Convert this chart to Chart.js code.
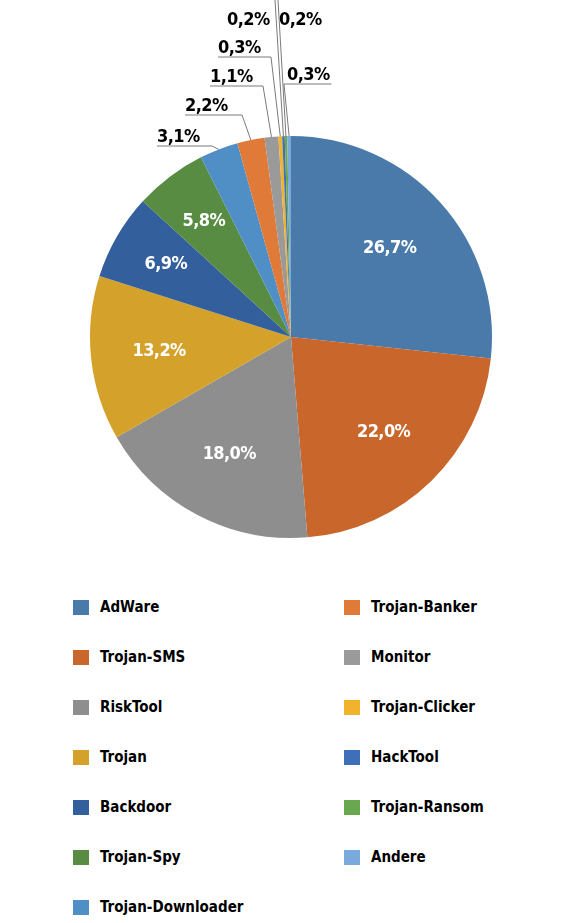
<!DOCTYPE html>
<html lang="de">
<head>
  <meta charset="UTF-8">
  <title>Mobile Bedrohungen nach Typ</title>
  <style>
    body {
      margin: 0;
      background: #fff;
      font-family: "DejaVu Sans Condensed", "DejaVu Sans", sans-serif;
      font-stretch: condensed;
    }
    #wrap {
      position: relative;
      width: 582px;
      height: 923px;
    }
    #chartBox {
      position: absolute;
      left: 0;
      top: 0;
      width: 582px;
      height: 560px;
    }
    .legend-item {
      position: absolute;
      height: 16px;
      display: flex;
      align-items: center;
      font-weight: bold;
      font-size: 15px;
      color: #000;
      white-space: nowrap;
    }
    .legend-item span.box {
      display: inline-block;
      width: 16px;
      height: 15px;
      margin-right: 11px;
    }
  </style>
</head>
<body>
  <div id="wrap">
    <div id="chartBox"><canvas id="pie"></canvas></div>
    <div id="legend"></div>
  </div>

  <script src="https://cdn.jsdelivr.net/npm/chart.js"></script>
  <script>
    // shares in percent, order = legend order (left column, then right column)
    const categories = ['AdWare', 'Trojan-SMS', 'RiskTool', 'Trojan', 'Backdoor', 'Trojan-Spy',
      'Trojan-Downloader', 'Trojan-Banker', 'Monitor', 'Trojan-Clicker', 'HackTool',
      'Trojan-Ransom', 'Andere'];
    const shares = [26.7, 22.0, 18.0, 13.2, 6.9, 5.8, 3.1, 2.2, 1.1, 0.3, 0.2, 0.2, 0.3];
    const colors = ['#4a7aaa', '#c8662b', '#8e8e8e', '#d4a22a', '#335f9c', '#578c42',
      '#4f8fc6', '#e07a38', '#9a9a9a', '#f0b32b', '#3f6fb8', '#69a84f', '#7aaadc'];

    // where the outside labels sit (text left x, underline y, elbow x)
    const callouts = {
      'Trojan-Downloader': { textX: 157, lineY: 146, elbowX: 212 },
      'Trojan-Banker':     { textX: 185, lineY: 115, elbowX: 242 },
      'Monitor':           { textX: 210, lineY: 86,  elbowX: 263 },
      'Trojan-Clicker':    { textX: 218, lineY: 57,  elbowX: 271 },
      'HackTool':          { textX: 227, lineY: 25,  elbowX: 275, top: true },
      'Trojan-Ransom':     { textX: 279, lineY: 25,  elbowX: 278, top: true },
      'Andere':            { textX: 287, lineY: 84,  elbowX: 284, right: true }
    };

    const labelFont = 'bold 18px "DejaVu Sans Condensed", "DejaVu Sans", sans-serif';

    function fmt(v) {
      return v.toFixed(1).replace('.', ',') + '%';
    }

    const sliceLabels = {
      id: 'sliceLabels',
      afterDatasetsDraw(chart) {
        const ctx = chart.ctx;
        const meta = chart.getDatasetMeta(0);
        ctx.save();
        ctx.font = labelFont;
        ctx.letterSpacing = '-0.6px';
        meta.data.forEach((arc, i) => {
          const p = arc.getProps(['x', 'y', 'startAngle', 'endAngle', 'outerRadius'], true);
          const mid = (p.startAngle + p.endAngle) / 2;
          const v = shares[i];
          const text = fmt(v);
          if (v >= 5) {
            const f = v >= 10 ? 0.66 : 0.72;
            ctx.fillStyle = '#fff';
            ctx.textAlign = 'center';
            ctx.textBaseline = 'middle';
            ctx.fillText(text, p.x + Math.cos(mid) * p.outerRadius * f,
              p.y + Math.sin(mid) * p.outerRadius * f);
            return;
          }
          const c = callouts[categories[i]];
          const ax = p.x + Math.cos(mid) * p.outerRadius;
          const ay = p.y + Math.sin(mid) * p.outerRadius;
          const w = ctx.measureText(text).width;
          ctx.strokeStyle = '#7a7a7a';
          ctx.lineWidth = 1;
          ctx.beginPath();
          if (c.top) {
            ctx.moveTo(ax, ay);
            ctx.lineTo(c.elbowX, 0);
          } else if (c.right) {
            ctx.moveTo(ax, ay);
            ctx.lineTo(c.elbowX, c.lineY);
            ctx.lineTo(c.textX + w + 2, c.lineY);
          } else {
            ctx.moveTo(ax, ay);
            ctx.lineTo(c.elbowX, c.lineY);
            ctx.lineTo(c.textX, c.lineY);
          }
          ctx.stroke();
          ctx.fillStyle = '#000';
          ctx.textAlign = 'left';
          ctx.textBaseline = 'alphabetic';
          ctx.fillText(text, c.textX, c.top ? c.lineY : c.lineY - 4);
        });
        ctx.restore();
      }
    };

    new Chart(document.getElementById('pie'), {
      type: 'pie',
      data: {
        labels: categories,
        datasets: [{
          data: shares,
          backgroundColor: colors,
          borderWidth: 0
        }]
      },
      options: {
        responsive: true,
        maintainAspectRatio: false,
        animation: false,
        layout: { padding: { top: 136, bottom: 22, left: 0, right: 0 } },
        plugins: {
          legend: { display: false },
          tooltip: { enabled: false }
        }
      },
      plugins: [sliceLabels]
    });

    // two-column legend, filled column by column
    const legend = document.getElementById('legend');
    const perCol = Math.ceil(categories.length / 2);
    categories.forEach((name, i) => {
      const col = Math.floor(i / perCol);
      const row = i % perCol;
      const item = document.createElement('div');
      item.className = 'legend-item';
      item.style.left = (col === 0 ? 73 : 344) + 'px';
      item.style.top = (599 + row * 50) + 'px';
      const box = document.createElement('span');
      box.className = 'box';
      box.style.background = colors[i];
      item.appendChild(box);
      item.appendChild(document.createTextNode(name));
      legend.appendChild(item);
    });
  </script>
</body>
</html>
